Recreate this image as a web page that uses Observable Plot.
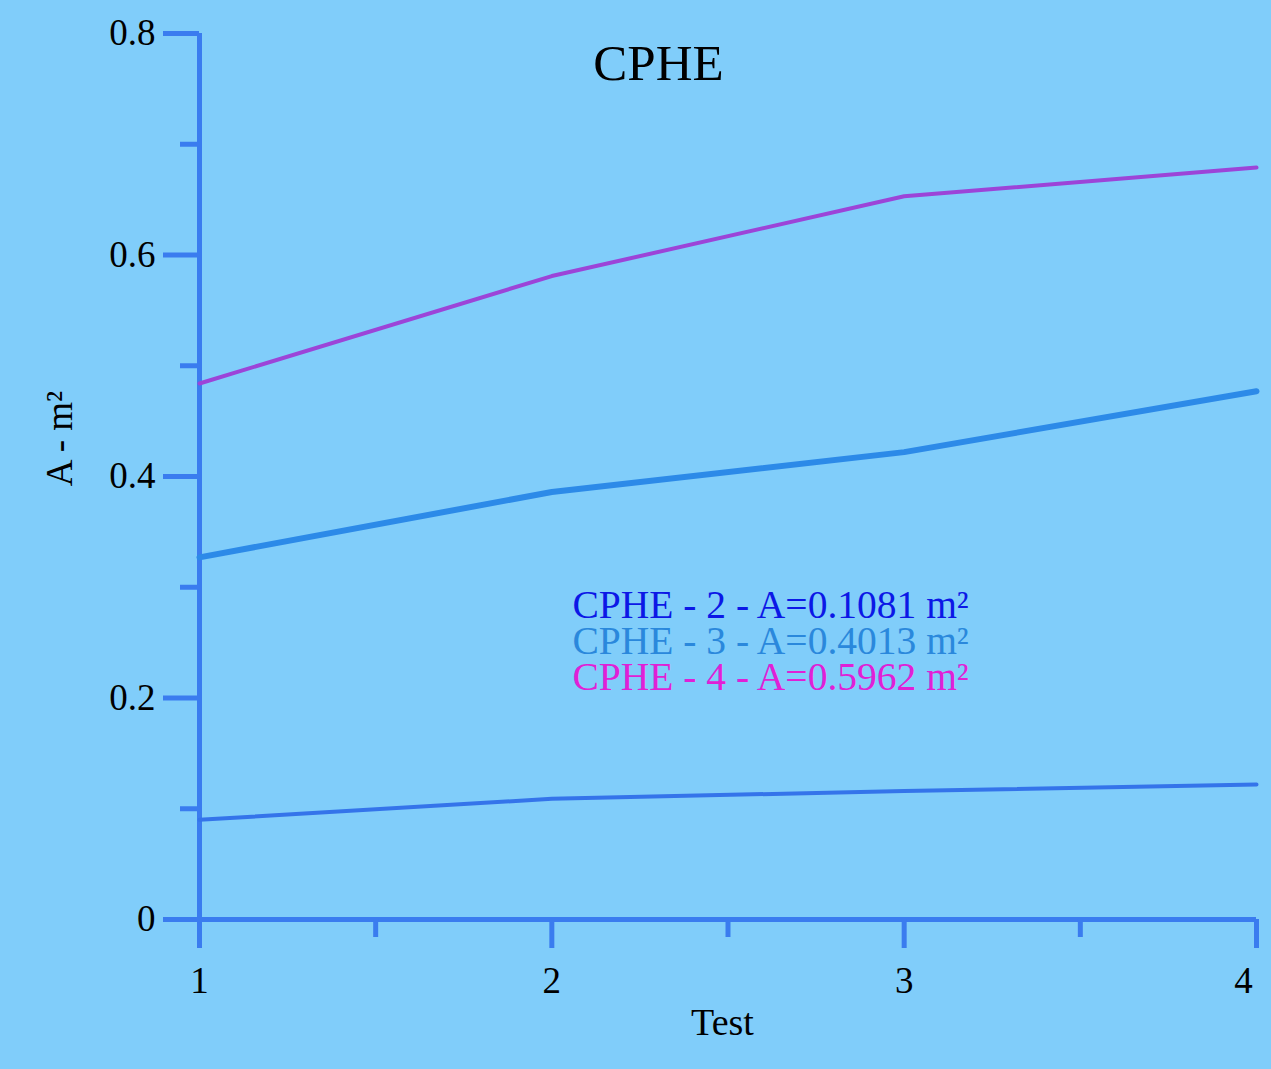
<!DOCTYPE html>
<html>
<head>
<meta charset="utf-8">
<script src="https://cdn.jsdelivr.net/npm/d3@7"></script>
<script src="https://cdn.jsdelivr.net/npm/@observablehq/plot@0.6"></script>
<style>
  html, body { margin: 0; padding: 0; background: #80cdfa; }
  #chart svg { display: block; }
</style>
</head>
<body>
<div id="chart"></div>
<script>
// ---- data ----
const tests = [1, 2, 3, 4];
const seriesNames = ["CPHE - 2", "CPHE - 3", "CPHE - 4"];
const seriesAreas = ["0.1081", "0.4013", "0.5962"];
const cphe2 = [0.090, 0.109, 0.116, 0.122];
const cphe3 = [0.327, 0.386, 0.422, 0.477];
const cphe4 = [0.484, 0.581, 0.653, 0.679];
const yMajorTicks = [0, 0.2, 0.4, 0.6, 0.8];
const yMinorTicks = [0.1, 0.3, 0.5, 0.7];
const xMajorTicks = [1, 2, 3, 4];
const xMinorTicks = [1.5, 2.5, 3.5];
const titleText = "CPHE";
const xLabel = "Test";
const yLabel = "A - m²";

// ---- styles ----
const axisColor = "#3a7cef";
const lineColors = ["#3474ea", "#2c8ae8", "#9c44d8"];
const lineWidths = [4, 6, 4];
const legendColors = ["#0c18e6", "#2a88dc", "#e020d6"];

const seriesValues = [cphe2, cphe3, cphe4];
const rows = seriesNames.flatMap((name, i) =>
  tests.map((t, j) => ({series: name, test: t, value: seriesValues[i][j]})));

const W = 1271, H = 1069;
const mL = 199, mR = 15, mT = 33, mB = 150;
const frameCX = (mL + (W - mR)) / 2;
const frameCY = (mT + (H - mB)) / 2;
const fmt = d => String(d);
const lastX = xMajorTicks[xMajorTicks.length - 1];

const chart = Plot.plot({
  width: W,
  height: H,
  marginLeft: mL,
  marginRight: mR,
  marginTop: mT,
  marginBottom: mB,
  style: {background: "transparent", fontFamily: "'Liberation Serif', 'DejaVu Serif', serif", fontSize: "36px", color: "black"},
  x: {domain: [1, 4], label: null},
  y: {domain: [0, 0.8], label: null},
  marks: [
    // axis lines
    Plot.ruleX([1], {y1: 0, y2: 0.8, stroke: axisColor, strokeWidth: 5}),
    Plot.ruleY([0], {x1: 1, x2: 4, stroke: axisColor, strokeWidth: 5}),
    // y axis ticks
    Plot.axisY({ticks: yMajorTicks, tickSize: 36, tickPadding: 8, tickFormat: fmt, stroke: axisColor, strokeWidth: 5, fill: "black", label: null, fontSize: 37}),
    Plot.axisY({ticks: yMinorTicks, tickSize: 19, tickFormat: () => "", stroke: axisColor, strokeWidth: 5, label: null}),
    // x axis ticks
    Plot.axisX({ticks: xMajorTicks, tickSize: 29, tickPadding: 18, tickFormat: d => d === lastX ? "" : fmt(d), stroke: axisColor, strokeWidth: 5, fill: "black", label: null, fontSize: 37}),
    Plot.axisX({ticks: [lastX], tickSize: 0, tickPadding: 47, tickFormat: fmt, fill: "black", label: null, fontSize: 37, dx: -13}),
    Plot.axisX({ticks: xMinorTicks, tickSize: 18, tickFormat: () => "", stroke: axisColor, strokeWidth: 5, label: null}),
    // series lines
    ...seriesNames.map((name, i) =>
      Plot.line(rows.filter(d => d.series === name), {
        x: "test", y: "value",
        stroke: lineColors[i], strokeWidth: lineWidths[i],
        strokeLinejoin: "round", strokeLinecap: "round"
      })),
    // title
    Plot.text([titleText], {frameAnchor: "top", lineAnchor: "middle", dx: 658 - frameCX, dy: 30, fontSize: 51, fill: "black"}),
    // legend
    ...seriesNames.map((name, i) =>
      Plot.text([`${name} - A=${seriesAreas[i]} m²`], {
        frameAnchor: "top-left", textAnchor: "start", lineAnchor: "middle",
        dx: 572 - mL, dy: 572 + i * 36,
        fontSize: 39.5, fill: legendColors[i]
      })),
    // axis labels
    Plot.text([xLabel], {frameAnchor: "bottom", lineAnchor: "middle", dx: 722 - frameCX, dy: 103, fontSize: 38, fill: "black"}),
    Plot.text([yLabel], {frameAnchor: "left", textAnchor: "middle", lineAnchor: "middle", rotate: -90, dx: 60 - mL, dy: 438 - frameCY, fontSize: 37, fill: "black"})
  ]
});

document.getElementById("chart").appendChild(chart);
</script>
</body>
</html>
